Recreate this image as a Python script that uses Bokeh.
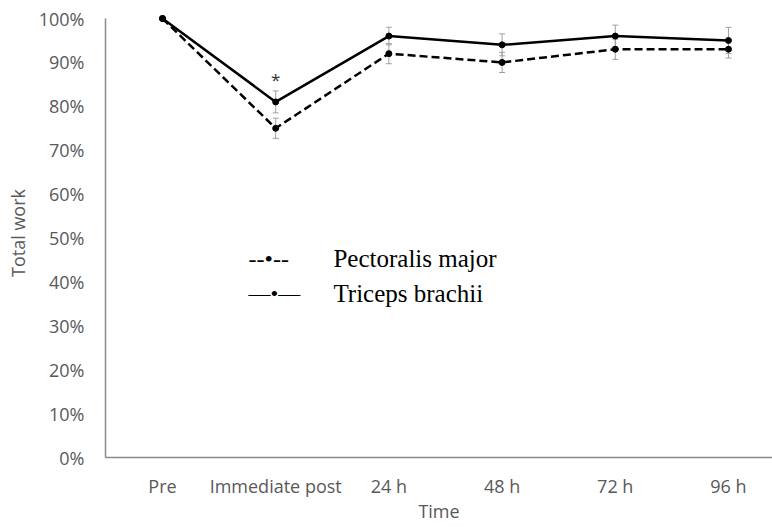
from bokeh.plotting import figure
from bokeh.models import ColumnDataSource, Range1d, FixedTicker, PrintfTickFormatter, Whisker, TeeHead, Label
from bokeh.embed import file_html
from bokeh.resources import INLINE

# ---- data ----
time_points = ["Pre", "Immediate post", "24 h", "48 h", "72 h", "96 h"]
pectoralis = [100, 75, 92, 90, 93, 93]
pectoralis_err = [0, 2.3, 2.3, 2.3, 2.3, 2.0]
triceps = [100, 81, 96, 94, 96, 95]
triceps_err = [0, 2.5, 2.0, 2.5, 2.5, 3.0]
y_ticks = [0, 10, 20, 30, 40, 50, 60, 70, 80, 90, 100]

xs = list(range(len(time_points)))
src_p = ColumnDataSource(dict(x=xs, y=pectoralis,
                              lo=[v - e for v, e in zip(pectoralis, pectoralis_err)],
                              hi=[v + e for v, e in zip(pectoralis, pectoralis_err)]))
src_t = ColumnDataSource(dict(x=xs, y=triceps,
                              lo=[v - e for v, e in zip(triceps, triceps_err)],
                              hi=[v + e for v, e in zip(triceps, triceps_err)]))

p = figure(width=772, height=527, output_backend="svg", toolbar_location=None,
           x_range=Range1d(-0.5035, 5.389), y_range=Range1d(0, 102.28),
           min_border_left=105, min_border_right=0, min_border_top=8, min_border_bottom=70)
p.outline_line_color = None
p.xgrid.grid_line_color = None
p.ygrid.grid_line_color = None

AX_COL = "#8a8a8a"
LBL_COL = "#595959"
FONT = "Open Sans"

# y axis
p.yaxis.ticker = FixedTicker(ticks=y_ticks)
p.yaxis.formatter = PrintfTickFormatter(format="%d%%")
p.yaxis.bounds = (0, 100)
p.yaxis.axis_label = "Total work"
p.yaxis.axis_label_text_font = FONT
p.yaxis.axis_label_text_font_style = "normal"
p.yaxis.axis_label_text_font_size = "18px"
p.yaxis.axis_label_text_color = LBL_COL
p.yaxis.axis_label_standoff = 6
p.yaxis.major_label_standoff = 21
# x axis
p.xaxis.ticker = FixedTicker(ticks=xs)
p.xaxis.major_label_overrides = {i: t for i, t in enumerate(time_points)}
p.xaxis.axis_label = "Time"
p.xaxis.axis_label_text_font = FONT
p.xaxis.axis_label_text_font_style = "normal"
p.xaxis.axis_label_text_font_size = "18px"
p.xaxis.axis_label_text_color = LBL_COL
p.xaxis.axis_label_standoff = -2
p.xaxis.major_label_standoff = 16

for ax in (p.xaxis, p.yaxis):
    ax.axis_line_color = AX_COL
    ax.axis_line_width = 1.5
    ax.major_tick_line_color = None
    ax.minor_tick_line_color = None
    ax.major_tick_in = 0
    ax.major_tick_out = 0
    ax.major_label_text_font = FONT
    ax.major_label_text_font_size = "18px"
    ax.major_label_text_color = LBL_COL

# error bars
for src in (src_p, src_t):
    w = Whisker(source=src, base="x", upper="hi", lower="lo",
                line_color="#a0a0a0", line_width=1,
                upper_head=TeeHead(size=6, line_color="#a0a0a0", line_width=1),
                lower_head=TeeHead(size=6, line_color="#a0a0a0", line_width=1))
    w.level = "underlay"
    p.add_layout(w)

# lines
p.line("x", "y", source=src_p, line_color="black", line_width=2.5, line_dash="8 4")
p.scatter("x", "y", source=src_p, size=6, color="black")
p.line("x", "y", source=src_t, line_color="black", line_width=2.5)
p.scatter("x", "y", source=src_t, size=6, color="black")

# significance asterisk
p.add_layout(Label(x=1, y=86.2, text="*", text_align="center", text_baseline="alphabetic",
                   text_font=FONT, text_font_size="17px", text_color="#333333"))

# legend (text-drawn, like the reference)
SERIF = "Liberation Serif"
p.add_layout(Label(x=0.76, y=45.3, text="--•--", text_font=SERIF, text_font_size="24px",
                   text_color="black", text_baseline="alphabetic"))
p.add_layout(Label(x=1.51, y=45.3, text="Pectoralis major", text_font=SERIF, text_font_size="25px",
                   text_color="black", text_baseline="alphabetic"))
p.add_layout(Label(x=0.76, y=37.4, text="—•—", text_font=SERIF, text_font_size="22px",
                   text_color="black", text_baseline="alphabetic"))
p.add_layout(Label(x=1.51, y=37.4, text="Triceps brachii", text_font=SERIF, text_font_size="25px",
                   text_color="black", text_baseline="alphabetic"))

open("out.html", "w").write(file_html(p, INLINE))
